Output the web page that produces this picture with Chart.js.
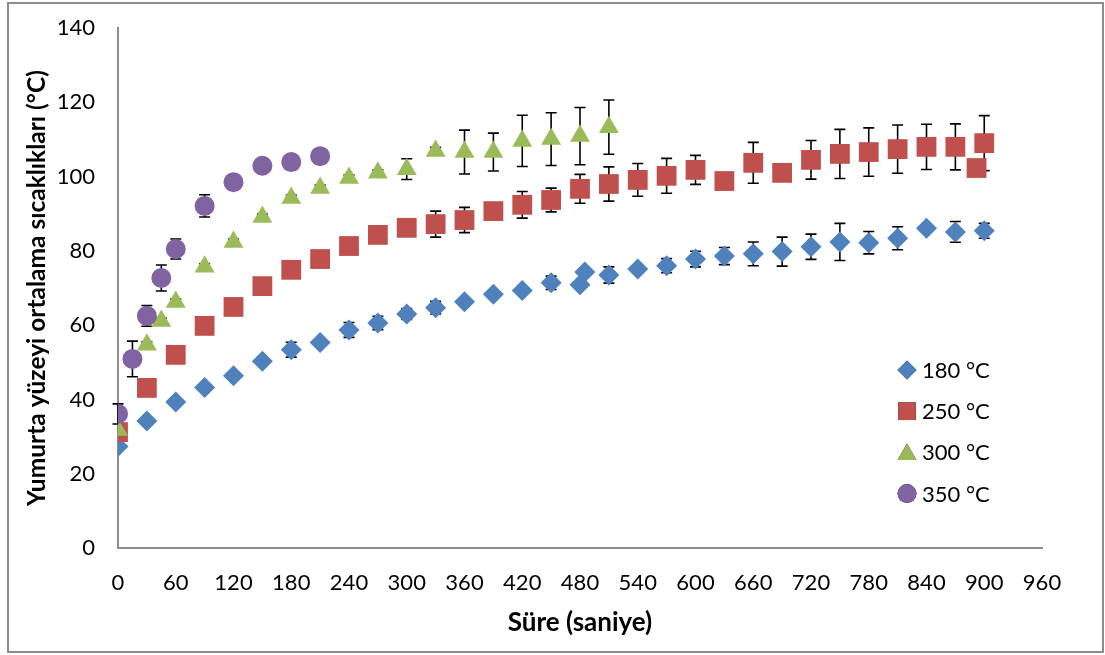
<!DOCTYPE html>
<html>
<head>
<meta charset="utf-8">
<script src="https://cdn.jsdelivr.net/npm/chart.js@4.4.1/dist/chart.umd.min.js"></script>
<style>
html,body{margin:0;padding:0;background:#fff;}
#wrap{width:1105px;height:655px;position:relative;}
</style>
</head>
<body>
<div id="wrap"><canvas id="c" width="1105" height="655"></canvas></div>
<script>
// ---- data ----
const xTicks = [0,60,120,180,240,300,360,420,480,540,600,660,720,780,840,900,960];
const yTicks = [0,20,40,60,80,100,120,140];
const seriesLabels = ['180 °C','250 °C','300 °C','350 °C'];

const t180 = [0,30,60,90,120,150,180,210,240,270,300,330,360,390,420,450,480,485,510,540,570,600,630,660,690,720,750,780,810,840,870,900];
const v180 = [27.3,34.2,39.3,43.2,46.4,50.3,53.4,55.3,58.7,60.6,63.0,64.7,66.3,68.3,69.3,71.4,70.9,74.3,73.5,75.1,76.0,77.8,78.6,79.2,79.8,81.1,82.4,82.2,83.4,86.1,85.1,85.4];
const e180 = [0,0.5,0.5,0.6,0.6,0.8,2.0,0.8,2.0,1.8,1.5,1.7,1.0,1.0,1.0,1.8,1.0,1.0,2.2,1.0,1.9,2.1,2.3,3.2,3.9,3.4,5.0,3.0,3.1,1.0,2.8,2.0];

const t250 = [0,30,60,90,120,150,180,210,240,270,300,330,360,390,420,450,480,510,540,570,600,630,660,690,720,750,780,810,840,870,892,900];
const v250 = [31.2,43.1,52.0,59.8,64.9,70.5,74.9,77.8,81.3,84.3,86.2,87.2,88.3,90.7,92.4,93.7,96.7,98.0,99.1,100.2,101.8,98.8,103.7,101.0,104.5,106.1,106.6,107.4,108.0,108.0,102.3,109.0];
const e250 = [0,0.5,0.5,0.5,0.8,0.8,0.8,0.8,0.8,0.8,0.8,3.5,3.4,0.8,3.6,3.2,3.9,4.6,4.4,4.7,3.9,0,5.5,0,5.2,6.6,6.5,6.5,6.1,6.2,0,7.4];

const t300 = [0,30,45,60,90,120,150,180,210,240,270,300,330,360,390,420,450,480,510];
const v300 = [31.8,54.7,61.1,66.2,75.7,82.4,89.1,94.2,96.9,99.6,101.0,102.0,106.9,106.6,106.6,109.6,110.1,110.9,113.3];
const e300 = [0,0.8,0.8,0.8,0.8,0.8,0.8,0.8,0.8,0.8,0.8,2.8,1.0,5.9,5.1,6.9,7.1,7.7,7.3];

const t350 = [0,15,30,45,60,90,120,150,180,210];
const v350 = [36.1,50.9,62.5,72.7,80.5,92.1,98.5,102.9,103.9,105.5];
const e350 = [2.7,4.8,2.8,3.5,2.7,3.0,0.5,0.5,0.5,0.5];

// ---- styling ----
const FONT = 'Lato, "Liberation Sans", sans-serif';
const colors = ['#4F81BD','#C0504D','#9BBB59','#8064A2'];
const styles = ['rectRot','rect','triangle','circle'];
const radii = [10.5,14,11.5,10];

function pts(t,v){ return t.map((x,i)=>({x:x,y:v[i]})); }
const allT=[t180,t250,t300,t350], allV=[v180,v250,v300,v350], allE=[e180,e250,e300,e350];

const datasets = allT.map((t,i)=>({
  label: seriesLabels[i],
  data: pts(t, allV[i]),
  errors: allE[i],
  backgroundColor: colors[i],
  borderColor: colors[i],
  borderWidth: 0,
  pointStyle: styles[i],
  pointRadius: radii[i],
  pointHoverRadius: radii[i],
  showLine: false,
  order: 4 - i
}));

const errorBars = {
  id:'errorBars',
  beforeDatasetsDraw(chart){
    const ctx=chart.ctx, xs=chart.scales.x, ys=chart.scales.y;
    ctx.save();
    ctx.strokeStyle='#000'; ctx.lineWidth=1.6;
    chart.data.datasets.forEach(ds=>{
      ds.data.forEach((p,i)=>{
        const e=ds.errors[i]; if(!e) return;
        const px=xs.getPixelForValue(p.x);
        const top=ys.getPixelForValue(p.y+e), bot=ys.getPixelForValue(p.y-e);
        ctx.beginPath();
        ctx.moveTo(px,top); ctx.lineTo(px,bot);
        ctx.moveTo(px-5.5,top); ctx.lineTo(px+5.5,top);
        ctx.moveTo(px-5.5,bot); ctx.lineTo(px+5.5,bot);
        ctx.stroke();
      });
    });
    ctx.restore();
  }
};

const legendAndFrame = {
  id:'legendAndFrame',
  afterDraw(chart){
    const ctx=chart.ctx;
    ctx.save();
    // outer frame
    ctx.strokeStyle='#8c8c8c'; ctx.lineWidth=2;
    ctx.strokeRect(8,3,1095,649);
    // legend
    const x0=907, y0=370, gap=41.2;
    ctx.font='22px '+FONT; ctx.textBaseline='middle';
    chart.data.datasets.forEach((ds,i)=>{
      const y=y0+i*gap;
      const r = i===1 ? 12.5 : (i===2 ? 11 : 9.5);
      Chart.helpers.drawPoint(ctx,{pointStyle:ds.pointStyle,radius:r,rotation:0,borderWidth:0},x0,y + (i===2?2:0));
      ctx.fillStyle=ds.backgroundColor;
      ctx.fill();
      ctx.fillStyle='#000';
      ctx.fillText(ds.label,922,y+1);
    });
    ctx.restore();
  }
};

new Chart(document.getElementById('c'),{
  type:'scatter',
  data:{datasets:datasets},
  options:{
    responsive:false,
    animation:false,
    layout:{padding:{left:10,right:63,top:28,bottom:0}},
    plugins:{legend:{display:false},tooltip:{enabled:false}},
    scales:{
      x:{
        type:'linear', min:0, max:960,
        afterBuildTicks(s){ s.ticks = xTicks.map(v=>({value:v})); },
        afterFit(s){ s.height=107; s.paddingLeft=0; s.paddingRight=0; },
        grid:{display:false, drawTicks:false},
        border:{display:true, color:'#8c8c8c', width:2},
        ticks:{color:'#000', font:{family:FONT,size:22}, padding:22, maxRotation:0, autoSkip:false},
        title:{display:true, text:'Süre (saniye)', color:'#000', font:{family:FONT,size:26,weight:'bold'}, padding:{top:0,bottom:16.4}}
      },
      y:{
        type:'linear', min:0, max:140,
        afterBuildTicks(s){ s.ticks = yTicks.map(v=>({value:v})); },
        afterFit(s){ s.width=108; s.paddingTop=0; s.paddingBottom=0; },
        grid:{display:false, drawTicks:false},
        border:{display:true, color:'#8c8c8c', width:2},
        ticks:{color:'#000', font:{family:FONT,size:22}, padding:23, autoSkip:false},
        title:{display:true, text:'Yumurta yüzeyi ortalama sıcaklıkları (°C)', color:'#000', font:{family:FONT,size:24.5,weight:'bold'}, padding:{top:12.3,bottom:0}}
      }
    }
  },
  plugins:[errorBars, legendAndFrame]
});
</script>
</body>
</html>
